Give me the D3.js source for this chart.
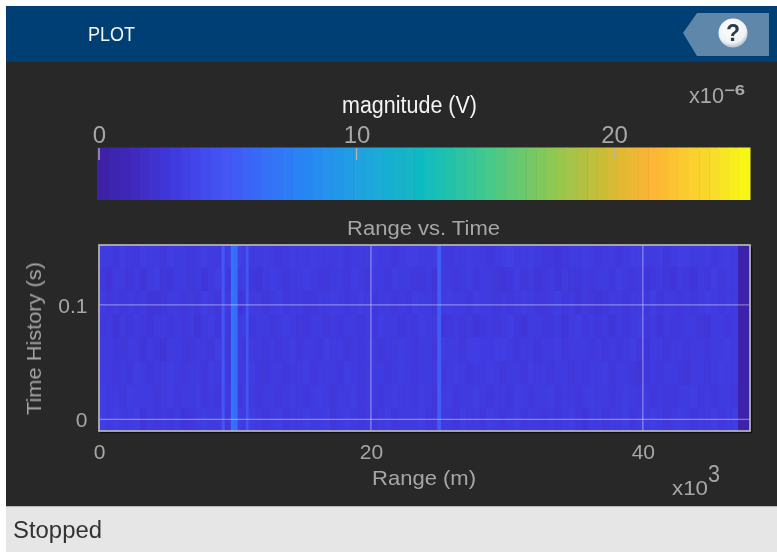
<!DOCTYPE html>
<html><head><meta charset="utf-8">
<script src="https://cdn.jsdelivr.net/npm/d3@7"></script>
<style>html,body{margin:0;padding:0;background:#fff}svg{display:block}text{font-family:"Liberation Sans",Arial,sans-serif}</style>
</head><body><svg id="c" width="777" height="552"></svg>
<script>
// Magnitude per sweep (top row = latest), in 1e-6 V, range bins 0.5 km wide
const rowA=[2.9,3.0,2.8,3.1,2.9,2.7,3.1,2.9,3.0,2.8,3.1,3.0,2.9,2.8,3.0,3.1,2.9,3.0,3.2,3.4,3.3,3.2,2.9,3.0,3.1,2.9,2.8,3.0,3.1,3.0,2.9,3.1,3.0,2.9,3.0,3.1,2.8,3.0,2.9,3.0,3.1,3.0,2.9,2.8,3.0,3.1,3.2,3.0,2.9,3.1,3.0,2.8,3.0,2.9,3.1,3.0,2.9,2.8,3.0,3.2,3.3,3.0,2.9,3.1,3.0,2.8,2.7,2.6,2.8,3.0,2.9,3.1,3.0,2.8,3.0,2.9,2.7,3.0,3.2,3.1,2.9,3.0,3.1,2.8,3.0,3.2,3.1,2.9,3.0,3.1,2.8,3.0,3.1,2.9,0.4,0.4];
const rowB=[2.8,2.6,3.0,2.9,2.7,3.0,2.6,2.9,3.1,2.7,2.6,3.0,2.9,2.7,3.0,2.6,2.9,3.1,3.0,2.7,2.9,3.1,2.8,2.6,2.9,3.1,3.0,2.7,2.9,3.0,3.2,3.0,2.8,2.7,3.0,2.9,2.7,3.1,3.0,2.8,2.9,3.0,2.7,3.1,3.0,2.9,2.8,2.7,3.0,2.6,2.9,3.0,2.7,2.9,3.1,2.8,3.0,2.9,2.7,2.6,2.8,3.1,2.7,2.9,2.6,2.8,3.0,2.6,2.9,2.7,2.8,3.0,2.7,2.9,3.0,2.8,3.1,2.9,2.7,3.0,2.6,2.8,3.0,2.7,2.6,2.9,2.8,2.6,3.0,2.8,3.1,2.7,2.9,3.0,0.4,0.4];
const rowC=[3.0,2.7,2.9,2.8,3.0,2.7,2.9,2.6,2.5,2.8,2.9,3.0,2.7,2.9,2.8,3.1,2.9,2.7,3.0,2.9,2.6,2.8,3.0,2.9,2.7,3.0,3.1,2.8,2.9,3.0,2.8,2.7,3.0,2.9,3.2,3.0,2.8,2.9,3.1,2.9,2.8,3.0,2.9,2.7,3.0,2.8,3.1,3.0,2.9,2.7,3.0,3.1,2.9,3.0,2.8,3.1,3.0,2.9,2.7,3.0,2.8,2.9,3.1,3.0,2.8,2.7,2.9,3.1,2.8,3.0,2.6,2.9,2.7,2.6,2.8,3.0,2.9,2.7,3.0,2.9,2.7,3.1,2.8,3.0,2.9,2.7,3.0,2.8,2.9,3.1,3.0,2.8,2.9,3.0,0.4,0.4];
const rowD=[2.8,3.0,2.6,2.9,2.7,3.0,2.8,2.6,2.9,3.0,2.7,3.0,2.8,2.9,2.6,2.9,3.1,2.8,2.9,2.7,3.0,3.1,2.8,2.9,3.0,2.7,2.9,3.1,3.0,2.7,2.8,3.0,2.9,2.7,3.0,2.8,3.0,2.9,2.7,3.0,2.8,3.1,2.9,3.0,2.7,2.9,2.8,3.1,3.0,2.9,2.6,2.8,3.0,2.7,2.9,2.6,2.8,3.0,2.7,2.9,3.1,2.8,2.6,2.9,3.0,2.8,2.7,3.0,2.6,2.9,3.1,2.8,3.0,2.7,2.9,2.6,3.0,2.8,2.9,3.1,2.7,2.9,2.6,3.0,2.8,2.7,3.0,2.9,2.7,2.6,2.9,3.0,2.8,3.0,0.4,0.4];
const rowE=[2.9,3.0,2.8,2.7,3.0,2.9,2.6,3.0,2.8,2.5,2.9,3.0,2.8,2.7,3.0,2.9,2.7,3.1,2.9,2.8,3.0,2.7,2.9,3.0,2.8,3.0,2.7,2.9,3.1,2.8,3.0,2.9,2.8,3.1,2.9,3.0,2.7,2.9,2.8,3.0,2.9,2.7,3.0,2.9,3.1,3.0,2.8,2.9,3.0,2.8,3.1,2.9,3.0,2.8,3.1,3.2,3.0,2.9,3.1,3.2,3.0,2.8,3.0,2.9,2.7,3.0,2.9,3.1,2.8,3.0,2.9,3.0,2.8,2.9,2.7,3.0,2.8,2.9,3.1,2.8,2.6,2.9,3.0,2.7,2.9,3.0,2.7,2.9,3.0,2.8,2.9,3.0,3.1,2.9,0.4,0.4];
const rowF=[3.0,2.9,2.7,3.0,2.8,3.1,2.9,2.7,3.0,2.9,3.1,3.0,2.7,2.9,3.0,2.8,3.1,2.9,3.0,2.7,2.9,3.0,3.1,2.8,2.7,3.0,2.9,2.8,3.0,2.9,3.1,2.8,3.0,2.9,3.0,2.8,3.1,3.0,2.8,2.9,3.0,2.9,2.8,3.0,3.1,2.9,2.8,3.0,2.9,3.0,2.8,2.9,3.1,3.0,2.8,2.9,3.0,3.1,2.9,2.7,3.0,2.9,2.8,3.1,2.9,3.0,2.7,2.9,3.0,2.7,3.0,2.8,3.0,2.9,3.1,2.7,3.0,2.9,2.7,2.6,2.8,3.0,2.7,2.9,3.0,2.8,2.6,2.9,3.0,2.7,2.9,3.1,3.0,2.9,0.4,0.4];
const rowG=[3.1,2.9,3.0,2.8,3.1,3.0,2.9,3.0,2.7,2.9,3.1,2.7,3.0,2.9,3.1,2.8,3.0,2.7,2.9,3.0,2.8,3.1,2.9,2.8,3.0,2.9,2.7,3.0,3.1,2.9,2.8,3.0,3.1,2.9,2.8,3.0,2.9,3.1,2.8,3.0,2.9,2.8,3.0,3.1,2.9,3.0,2.8,3.1,2.9,2.8,3.0,3.1,2.8,3.0,2.9,3.1,2.9,2.8,3.0,2.9,2.8,3.1,3.0,2.8,3.0,2.9,3.1,2.8,3.0,2.9,2.8,3.0,3.1,2.9,3.0,2.8,2.9,3.1,3.0,2.8,2.9,2.7,3.0,2.8,2.7,3.0,2.9,3.1,2.8,3.0,2.7,2.9,3.0,2.8,0.4,0.4];
const rowH=[3.1,3.0,3.2,2.9,3.0,3.1,2.6,2.9,2.7,3.0,2.8,3.0,2.6,2.8,3.0,3.1,2.9,3.0,2.8,2.9,3.1,3.0,3.1,2.9,2.8,3.0,3.1,2.8,3.0,2.9,3.1,2.9,3.0,3.1,2.8,3.0,3.1,2.9,2.8,3.0,2.7,2.9,3.1,2.8,3.0,2.9,3.0,3.1,2.8,2.7,2.9,3.0,2.8,3.1,2.9,3.0,2.8,3.1,2.9,2.7,3.0,3.1,2.8,3.0,2.9,2.7,3.0,2.8,3.0,3.1,2.8,2.6,3.0,2.9,2.7,2.9,3.0,3.1,2.8,3.0,2.9,3.1,3.0,2.8,2.9,3.1,3.0,2.8,3.0,2.9,3.1,2.8,3.0,3.1,0.4,0.4];
const sweeps=[rowH,rowG,rowF,rowE,rowD,rowC,rowB,rowA]; // oldest first
const binWidthKm=0.5, sweepSeconds=0.0205, firstSweepStart=-0.0101;
// Bright returns that persist through all sweeps
const streakStart=[9.02,9.7,9.92,10.8,24.88];
const streakEnd=[9.24,9.95,10.2,11.0,25.16];
const streakMag=[5.0,6.9,6.4,4.8,5.4];
const rangeTicks=[0,20,40];
const timeTicks=[0,0.1];
const magTicks=[0,10,20];
const rangeLimits=[0,47.88];
const timeLimits=[-0.0101,0.1523];
const magLimits=[0,25.28];
// Colormap
const cmapPos=[0,.06,.12,.2,.3,.4,.5,.6,.7,.8,.85,.95,1];
const cmapCol=["#3e22a4","#3f2bc0","#413be2","#4458f5","#2a80f8","#20a2e0","#0fbcbf","#45c98a","#90c850","#e0b830","#fdb535","#f8e028","#f8fa10"];
const levelCount=64;

const svg=d3.select("#c");
const G="#a6a6a6";
const txt=(x,y,s,size,fill,len,anchor)=>{const t=svg.append("text").attr("x",x).attr("y",y).attr("font-size",size).attr("fill",fill).attr("text-anchor",anchor||"start").text(s);
  if(len)t.attr("textLength",len).attr("lengthAdjust","spacingAndGlyphs");return t;};

const defs=svg.append("defs");
defs.append("filter").attr("id","soft").attr("x","-5%").attr("y","-5%").attr("width","110%").attr("height","110%")
  .append("feGaussianBlur").attr("stdDeviation",0.7);
defs.append("filter").attr("id","softT").attr("x","-20%").attr("y","-20%").attr("width","140%").attr("height","140%")
  .append("feGaussianBlur").attr("stdDeviation",0.4);
const rg=defs.append("radialGradient").attr("id","btn").attr("cx","45%").attr("cy","35%").attr("r","70%");
rg.append("stop").attr("offset","0%").attr("stop-color","#ffffff");
rg.append("stop").attr("offset","70%").attr("stop-color","#eef2f6");
rg.append("stop").attr("offset","100%").attr("stop-color","#9fb0c0");

// chrome
svg.append("rect").attr("x",6).attr("y",6).attr("width",771).attr("height",57).attr("fill","#003f73");
svg.append("rect").attr("x",6).attr("y",62).attr("width",771).attr("height",444).attr("fill","#282828");
svg.append("rect").attr("x",6).attr("y",506).attr("width",771).attr("height",46).attr("fill","#e6e6e6");
svg.append("rect").attr("x",6).attr("y",506).attr("width",771).attr("height",1).attr("fill","#b8b8b8");
txt(88,41,"PLOT",20,"#f4f6f8",47).attr("filter","url(#softT)");
svg.append("polygon").attr("points",[[683,33],[697,13],[769,13],[769,56],[697,56]].join(" ")).attr("fill","#5f87aa");
svg.append("circle").attr("cx",733).attr("cy",33).attr("r",14.5).attr("fill","url(#btn)");
txt(733,41,"?",23,"#2a3a48",null,"middle").attr("font-weight","bold").attr("filter","url(#softT)");

// colorbar
const color=d3.scaleLinear().domain(cmapPos).range(cmapCol).interpolate(d3.interpolateRgb);
const cbX=d3.scaleLinear().domain(magLimits).range([99,750]);
const levelW=(magLimits[1]-magLimits[0])/levelCount;
const cb=svg.append("g").attr("filter","url(#soft)");
cb.selectAll("rect").data(d3.range(levelCount)).join("rect")
  .attr("x",i=>cbX(i*levelW)-(i===0?2:0))
  .attr("width",i=>cbX(levelW)-cbX(0)+(i===0?2:0)+0.5)
  .attr("y",147.5).attr("height",52.5)
  .attr("fill",i=>color((i+0.5)/levelCount));
const cbAxis=d3.axisTop(cbX).tickValues(magTicks).tickSize(0).tickPadding(0).tickFormat(d3.format("d"));
const cbg=svg.append("g").attr("transform","translate(0,143)").call(cbAxis);
cbg.select(".domain").remove();
cbg.selectAll("text").attr("y",0).attr("dy",0).attr("font-size",24).attr("fill",G).style("font-family",'"Liberation Sans"').attr("filter","url(#softT)");
svg.append("g").selectAll("line").data(magTicks).join("line")
  .attr("x1",d=>cbX(d)).attr("x2",d=>cbX(d)).attr("y1",148).attr("y2",160)
  .attr("stroke","#b4b4b4").attr("stroke-width",1.3);
txt(409.5,113,"magnitude (V)",23,"#f4f4f4",135,"middle").attr("filter","url(#softT)");
txt(689,103,"x10",22,"#a8a8a8",35).attr("filter","url(#softT)");
txt(724,95,"−6",14,"#a8a8a8",21).attr("font-weight","bold").attr("filter","url(#softT)");

// heatmap
const x=d3.scaleLinear().domain(rangeLimits).range([99,750]);
const y=d3.scaleLinear().domain(timeLimits).range([431,245]);
const magColor=v=>color(v/magLimits[1]);
svg.append("clipPath").attr("id","pl").append("rect").attr("x",99).attr("y",245).attr("width",651).attr("height",186);
const heat=svg.append("g").attr("clip-path","url(#pl)").append("g").attr("filter","url(#soft)");
sweeps.forEach((row,r)=>{
  heat.append("g").selectAll("rect").data(row).join("rect")
    .attr("x",(d,i)=>x(i*binWidthKm)).attr("width",x(binWidthKm)-x(0)+0.6)
    .attr("y",y(firstSweepStart+(r+1)*sweepSeconds)).attr("height",y(0)-y(sweepSeconds)+0.6)
    .attr("fill",d=>magColor(d));
});
heat.append("g").selectAll("rect").data(streakMag).join("rect")
  .attr("x",(d,i)=>x(streakStart[i])).attr("width",(d,i)=>x(streakEnd[i])-x(streakStart[i]))
  .attr("y",240).attr("height",196).attr("fill",d=>magColor(d));

// grid
const grid=svg.append("g").attr("stroke","#ffffff").attr("stroke-opacity",0.38).attr("stroke-width",1.3);
grid.selectAll("line.v").data(rangeTicks.filter(d=>d>0)).join("line").attr("class","v")
  .attr("x1",d=>x(d)).attr("x2",d=>x(d)).attr("y1",245).attr("y2",431);
grid.selectAll("line.h").data(timeTicks).join("line").attr("class","h")
  .attr("y1",d=>y(d)).attr("y2",d=>y(d)).attr("x1",99).attr("x2",750);
// frame with shadow
svg.append("path").attr("d","M751.5 247V432.5H100").attr("fill","none").attr("stroke","#111").attr("stroke-width",1.5);
svg.append("rect").attr("x",99).attr("y",245).attr("width",651).attr("height",186).attr("fill","none").attr("stroke","#b0b0b0").attr("stroke-width",1.8);

// axes
const ax=svg.append("g").attr("transform","translate(0,459)").call(d3.axisBottom(x).tickValues(rangeTicks).tickSize(0).tickFormat(d3.format("d")));
ax.select(".domain").remove();
ax.selectAll("text").attr("y",0).attr("dy",0).attr("font-size",21).attr("fill",G).style("font-family",'"Liberation Sans"').attr("filter","url(#softT)");
const ay=svg.append("g").attr("transform","translate(87.5,0)").call(d3.axisLeft(y).tickValues(timeTicks).tickSize(0).tickPadding(0).tickFormat(d=>d===0?"0":d3.format(".1f")(d)));
ay.select(".domain").remove();
ay.selectAll("text").attr("x",0).attr("dy","0.35em").attr("font-size",21).attr("fill",G).style("font-family",'"Liberation Sans"').attr("filter","url(#softT)");

txt(423.5,235,"Range vs. Time",20,G,153,"middle").attr("filter","url(#softT)");
txt(424,485,"Range (m)",21,G,104,"middle").attr("filter","url(#softT)");
txt(672,495,"x10",21,G,36).attr("filter","url(#softT)");
txt(708,482,"3",23,G,12).attr("filter","url(#softT)");
svg.append("text").attr("transform","translate(41,338.5) rotate(-90)").attr("text-anchor","middle").attr("font-size",21).attr("fill",G)
  .attr("textLength",153).attr("lengthAdjust","spacingAndGlyphs").attr("filter","url(#softT)").text("Time History (s)");
txt(13,538,"Stopped",23,"#333333",89).attr("filter","url(#softT)");
</script></body></html>
